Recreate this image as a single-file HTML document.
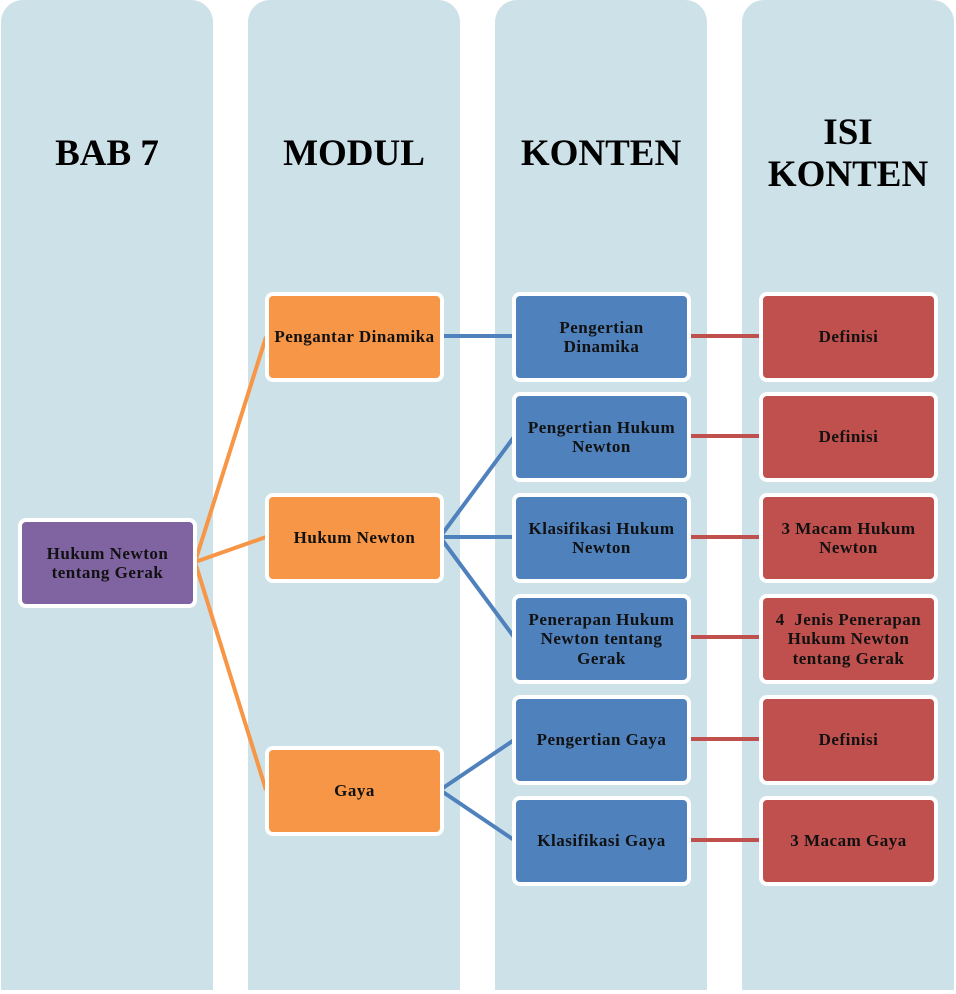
<!DOCTYPE html>
<html><head><meta charset="utf-8"><style>
body{margin:0;width:956px;height:994px;background:#fff;position:relative;overflow:hidden;font-family:"Liberation Serif",serif;font-weight:bold}
.col{position:absolute;top:0;width:212px;height:990px;background:#cde1e8;border-radius:22px 22px 0 0}
.h{position:absolute;width:212px;text-align:center;font-size:37px;line-height:42px;color:#000;letter-spacing:0}
.b{position:absolute;width:171px;height:82px;border:4px solid #fff;border-radius:8px;display:flex;align-items:center;justify-content:center;text-align:center;font-size:17px;line-height:19.5px;letter-spacing:0.5px;color:#111;box-sizing:content-box;white-space:nowrap}
.o{background:#f79646}.p{background:#8064a2}.bl{background:#4f81bd}.r{background:#c0504d}
svg{position:absolute;left:0;top:0}
</style></head><body>
<div class="col" style="left:1px"></div>
<div class="col" style="left:248px"></div>
<div class="col" style="left:495px"></div>
<div class="col" style="left:742px"></div>
<div class="h" style="left:1px;top:133px">BAB 7</div>
<div class="h" style="left:248px;top:133px">MODUL</div>
<div class="h" style="left:495px;top:133px">KONTEN</div>
<div class="h" style="left:742px;top:112px">ISI<br>KONTEN</div>
<svg width="956" height="994">
<g stroke="#f79646" stroke-width="4" fill="none">
<path d="M195 562 L266 337 M195 562 L266 537 M195 562 L266 790"/></g>
<g stroke="#4f81bd" stroke-width="4" fill="none">
<path d="M440 336 L514 336 M440 537 L514 437 M440 537 L514 537 M440 537 L514 637 M440 790 L514 740 M440 790 L514 840"/></g>
<g stroke="#c0504d" stroke-width="4" fill="none">
<path d="M687 336 L761 336 M687 436 L761 436 M687 537 L761 537 M687 637 L761 637 M687 739 L761 739 M687 840 L761 840"/></g>
</svg>
<div class="b p" style="left:18px;top:518px">Hukum Newton<br>tentang Gerak</div>
<div class="b o" style="left:265px;top:292px">Pengantar Dinamika</div>
<div class="b o" style="left:265px;top:493px">Hukum Newton</div>
<div class="b o" style="left:265px;top:746px">Gaya</div>
<div class="b bl" style="left:512px;top:292px">Pengertian<br>Dinamika</div>
<div class="b bl" style="left:512px;top:392px">Pengertian Hukum<br>Newton</div>
<div class="b bl" style="left:512px;top:493px">Klasifikasi Hukum<br>Newton</div>
<div class="b bl" style="left:512px;top:594px">Penerapan Hukum<br>Newton tentang<br>Gerak</div>
<div class="b bl" style="left:512px;top:695px">Pengertian Gaya</div>
<div class="b bl" style="left:512px;top:796px">Klasifikasi Gaya</div>
<div class="b r" style="left:759px;top:292px">Definisi</div>
<div class="b r" style="left:759px;top:392px">Definisi</div>
<div class="b r" style="left:759px;top:493px">3 Macam Hukum<br>Newton</div>
<div class="b r" style="left:759px;top:594px">4 &nbsp;Jenis Penerapan<br>Hukum Newton<br>tentang Gerak</div>
<div class="b r" style="left:759px;top:695px">Definisi</div>
<div class="b r" style="left:759px;top:796px">3 Macam Gaya</div>
</body></html>
